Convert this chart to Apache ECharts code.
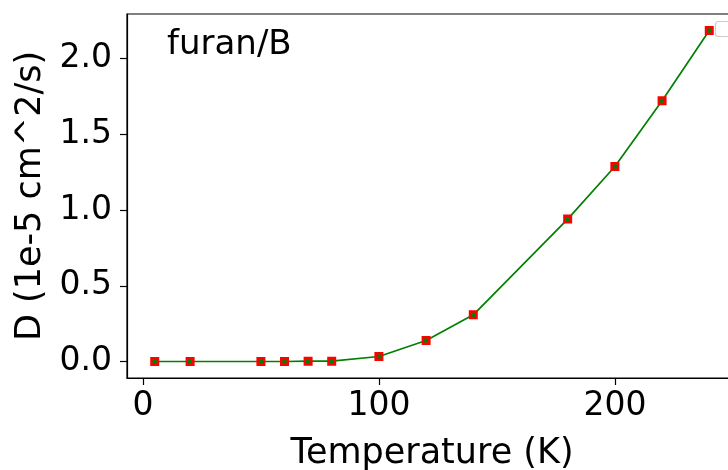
<!DOCTYPE html>
<html>
<head>
<meta charset="utf-8">
<script src="https://cdn.jsdelivr.net/npm/echarts@6/dist/echarts.min.js"></script>
<style>
  html, body { margin: 0; padding: 0; background: #fff; }
  #chart { width: 728px; height: 470px; }
</style>
</head>
<body>
<div id="chart"></div>
<script>
// Temperature (K) and diffusion coefficient D (1e-5 cm^2/s)
const temperatures = [5, 20, 50, 60, 70, 80, 100, 120, 140, 180, 200, 220, 240];
const diffusion = [0.0, 0.0, 0.0, 0.0, 0.002, 0.002, 0.033, 0.139, 0.308, 0.94, 1.287, 1.721, 2.185];
const xTicks = [0, 100, 200];
const yTicks = [0.0, 0.5, 1.0, 1.5, 2.0];

const FONT = 'DejaVu Sans';
const points = temperatures.map((t, i) => [t, diffusion[i]]);

const chart = echarts.init(document.getElementById('chart'), null, { renderer: 'canvas' });
chart.setOption({
  animation: false,
  backgroundColor: '#ffffff',
  grid: {
    left: 127, top: 14, width: 610, height: 364,
    show: true, borderColor: '#000', borderWidth: 1.2,
    outerBoundsMode: 'none', containLabel: false
  },
  xAxis: {
    type: 'value',
    min: -6.75, max: 251.75,
    name: 'Temperature (K)',
    nameLocation: 'middle',
    nameGap: 58,
    nameTextStyle: { fontFamily: FONT, fontSize: 35, color: '#000' },
    axisLine: { show: true, onZero: false, lineStyle: { color: '#000', width: 1.2 } },
    axisTick: { show: true, inside: false, length: 7, customValues: xTicks, lineStyle: { color: '#000', width: 1.2 } },
    axisLabel: { customValues: xTicks, fontFamily: FONT, fontSize: 33, color: '#000', margin: 12 },
    splitLine: { show: false }
  },
  yAxis: {
    type: 'value',
    min: -0.109, max: 2.294,
    name: 'D (1e-5 cm^2/s)',
    nameLocation: 'middle',
    nameGap: 79,
    nameRotate: 90,
    nameTextStyle: { fontFamily: FONT, fontSize: 35, color: '#000' },
    axisLine: { show: true, onZero: false, lineStyle: { color: '#000', width: 1.2 } },
    axisTick: { show: true, inside: false, length: 7, customValues: yTicks, lineStyle: { color: '#000', width: 1.2 } },
    axisLabel: {
      customValues: yTicks, fontFamily: FONT, fontSize: 33, color: '#000', margin: 15,
      formatter: v => v.toFixed(1)
    },
    splitLine: { show: false }
  },
  series: [{
    type: 'line',
    data: points,
    lineStyle: { color: '#008000', width: 1.7 },
    symbol: 'rect',
    symbolSize: 6.5,
    itemStyle: { color: '#008000', borderColor: '#ff0000', borderWidth: 2.5 },
    z: 3
  }],
  graphic: [
    {
      type: 'text', left: 167, top: 28,
      style: { text: 'furan/B', fontFamily: FONT, fontSize: 34, fill: '#000' }
    },
    {
      type: 'rect', shape: { x: 715.5, y: 21.5, width: 40, height: 15, r: 3 },
      style: { fill: 'rgba(255,255,255,0.8)', stroke: '#cccccc', lineWidth: 1.2 }
    }
  ]
});
</script>
</body>
</html>
